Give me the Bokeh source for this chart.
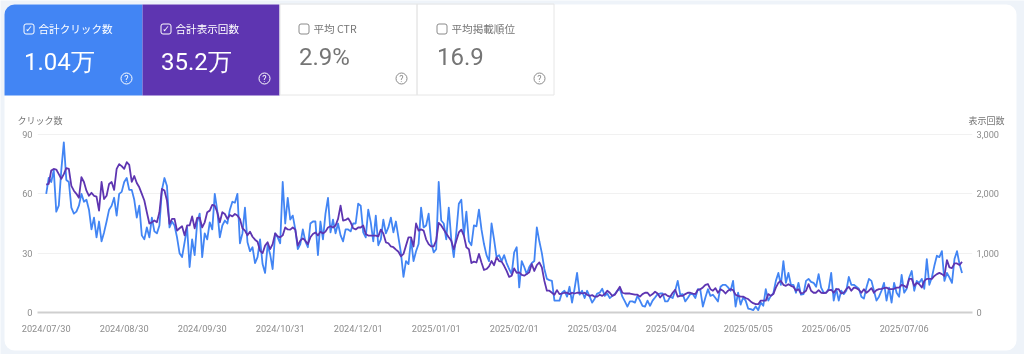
from datetime import datetime, timedelta
from bokeh.plotting import figure
from bokeh.layouts import column
from bokeh.embed import file_html
from bokeh.resources import INLINE
from bokeh.core.properties import value
from bokeh.models import (Range1d, LinearAxis, FixedTicker, DatetimeTickFormatter, NumeralTickFormatter)

start_date = datetime(2024, 7, 30)
tick_labels = ["2024/07/30","2024/08/30","2024/09/30","2024/10/31","2024/12/01","2025/01/01",
               "2025/02/01","2025/03/04","2025/04/04","2025/05/05","2025/06/05","2025/07/06"]
left_ticks = [0, 30, 60, 90]
right_ticks = [0, 1000, 2000, 3000]

clicks = [60,68,66,72,51,54,72,86,67,66,53,50,51,54,60,56,57,52,42,48,38,46,36,40.5,46,52,54,58,49,60,61,66,68,62,62,57,48,54,39,37,43,38,48,41,40,44,62,68,64,43,46,44,38,30,28,35.5,43,23,37,29,45.6,50,28,40,37,45.6,42,60,51.5,38,44,46.5,45,52,56,55.5,60,35,40,53,35.5,31,33,25,28,
 37,24.5,20,34,29.5,22,40,38,35,66,45,58,47,49,42,32,34.6,42,36,33,45,46,46,29,46,37,50,58,40.5,47,40,45,39,36,42,42,41,45,45,55,54,40.5,38,52,45.6,36,49,34,37,47,40,43,48,40.5,46,38,30,18,26,24.5,37,26,31,34.6,53,43,44,50,35.5,30.4,32,66,46.5,45,37,53,37,28,40.5,55,57,39,51,36,34,44,43.6,52,42,34.6,29,26,45,37,28,29,26,29,25,22,19.4,30.4,33,
 12.7,26,23,19.4,23,25,26,43,36,30,22,17,16.4,16,6,6,6,10,11,8,13,5,12,20,9,11,7.3,11,8,5,7,9.6,10,12,8.4,9.6,7.3,8.4,9.3,11,12,8,5.6,3,5.6,5.6,5,8.4,6,3.4,3,6,3.4,6,7.6,9.3,9.6,9.6,5.6,5.6,8,7.3,11,16,9,9.3,5.6,7.3,9.3,9.3,7.3,11.8,11.3,3,7.6,11.8,8.4,9,7.3,5.6,13,14,14,12.7,11,16,3,10,4,7.6,6,2,1.7,1.2,3,1.2,5,3.4,
 11.8,6,8.4,9.6,16,20,14,26,15,20,14,14,10,15,9,9.3,16,17,15.5,15,13,19.4,12.6,10,10,12,20,6,12,6,11,9.3,11,18,14,14,13,12,8,7,12.6,17,16,11,6,8,11,15,6,12.6,5,15,10,8,19,10,12,17.7,21,11,16,15,17,12,27,14,17.7,23.6,28.7,28,31,16,20,17.7,15,27,31,24.5,20]

impressions = [2157,2167,2393,2420,2410,2333,2253,2333,2433,2420,2133,2053,2000,1933,2280,2200,2053,1967,2017,1967,1953,1717,2200,1913,1967,2167,2200,2067,2420,2500,2467,2420,2533,2487,2200,2300,2183,2110,2000,1887,1690,1500,1520,1550,1520,1690,2083,2057,1887,1493,1577,1577,1380,1420,1453,1300,1467,1467,1620,1420,1593,1600,1433,1520,1690,1717,1813,1800,1690,1520,1690,1660,1577,1643,1620,1660,1633,1577,1420,1380,1300,1363,1277,1227,1193,
 1040,1000,1127,1183,1067,1153,1333,1283,1267,1300,1433,1400,1397,1433,1397,1127,1210,1250,1210,1153,1267,1323,1350,1297,1363,1333,1363,1433,1453,1433,1467,1577,1800,1550,1560,1587,1520,1420,1400,1433,1433,1467,1323,1297,1297,1297,1297,1283,1397,1333,1183,1167,1113,1100,1060,1023,947,987,1127,1267,1267,1113,1500,1380,1400,1380,1233,1153,1113,1113,1210,1510,1467,1400,1333,1267,1210,1067,1210,1350,1397,1297,1100,1067,833,857,843,987,843,717,733,777,867,797,930,867,857,787,700,600,620,743,667,
 677,633,620,647,677,817,700,800,843,760,533,367,367,333,300,377,310,320,333,333,310,333,320,333,333,320,333,300,280,293,267,267,300,280,310,367,333,280,300,367,433,333,320,320,320,310,300,300,267,310,333,333,280,310,350,320,253,300,310,280,267,333,383,267,280,280,310,333,333,320,310,383,393,423,467,480,393,367,410,333,393,367,320,367,393,377,300,280,267,267,243,227,187,157,140,140,200,200,
 200,310,280,310,420,500,533,467,450,477,450,433,367,393,320,333,367,477,367,333,333,377,333,327,333,377,383,333,393,393,320,333,393,433,367,420,410,383,333,393,333,367,410,333,377,393,400,410,420,393,393,400,420,420,467,450,420,567,567,450,500,477,420,533,567,567,567,617,647,667,647,617,883,760,747,827,827,800,853]

card_titles = ["合計クリック数", "合計表示回数", "平均 CTR", "平均掲載順位"]
card_values = ["1.04万", "35.2万", "2.9%", "16.9"]

W, H = 1024, 354
BG = "#eef3f9"
PX_LEFT, PX_RIGHT, PX_TOP, PX_BOTTOM = 37, 972, 133, 312
PX_PER_DAY = 2.516
X0 = 45.7
Y_TOP_MARGIN = 0.506  # a hair of headroom so the 90 gridline is not cut by the frame edge
JP = "Noto Sans CJK JP"
FIXED = {"position": "fixed", "left": "0", "top": "0"}

def day(d):
    return start_date + timedelta(days=d)

x_clicks = [day(i) for i in range(len(clicks))]
x_impr = [day(i) for i in range(len(impressions))]

# page furniture: a figure whose frame is the whole window, y measured upward from the bottom
bg = figure(width=W, height=H, output_backend="svg", toolbar_location=None,
            x_range=Range1d(0, W), y_range=Range1d(0, H), min_border=0,
            background_fill_color=BG, border_fill_color=BG, outline_line_color=None, frame_align=False)
bg.axis.visible = False
bg.grid.visible = False
bg.styles = FIXED


def box(l, r, t, b, fill, line=None, lw=1, radius=0):
    bg.quad(left=l, right=r, top=H - t, bottom=H - b, fill_color=fill, line_color=line, line_width=lw,
            border_radius=radius)


def txt(x, y, s, size, color, font=JP, align="left"):
    bg.text(x=[x], y=[H - y], text=[s], text_font=value(font), text_font_size=value(f"{size}px"),
            text_color=color, text_align=align, text_baseline="middle")


box(4, 1016, 4, 350, "#ffffff", radius=10)
box(4, 142, 4, 95, "#4285f4", radius=(10, 0, 0, 0))
box(142, 279, 4, 95, "#5e35b1")
box(279.5, 416.5, 3.5, 94.5, None, line="#e6e6e6")
box(416.5, 553.5, 3.5, 94.5, None, line="#e6e6e6")

lefts = [23, 160, 298, 436]
q_centers = [126, 264, 401, 539]
for i in range(4):
    white = i < 2
    tc = "#ffffff" if white else "#757575"
    box(lefts[i] + .5, lefts[i] + 10.5, 23.5, 33.5, None, line="#ffffff" if white else "#8a8a8a", radius=2)
    if white:
        txt(lefts[i] + 5.5, 28.5, "✓", 9, "#ffffff", font="DejaVu Sans", align="center")
    txt(lefts[i] + 15, 28, card_titles[i], 10.6, "#ffffff" if white else "#757575")
    txt(lefts[i] + 0.5, 61 if white else 56, card_values[i], 24, tc, font="Roboto")
    qc = "#ffffff" if white else "#8a8a8a"
    bg.scatter([q_centers[i]], [H - 78], marker="circle", size=11, fill_color=None, line_color=qc, line_width=1)
    txt(q_centers[i], 78, "?", 9, qc, font="Roboto", align="center")

txt(17, 120, "クリック数", 9, "#757575")
txt(968, 120, "表示回数", 9, "#757575")

# the chart itself, transparent, over the furniture
p = figure(width=W, height=H, output_backend="svg", toolbar_location=None,
           x_axis_type="datetime",
           x_range=Range1d(day((PX_LEFT - X0) / PX_PER_DAY), day((PX_RIGHT - X0) / PX_PER_DAY)),
           y_range=Range1d(0, left_ticks[-1] + Y_TOP_MARGIN), frame_align=False,
           min_border_left=PX_LEFT, min_border_right=W - PX_RIGHT,
           min_border_top=PX_TOP, min_border_bottom=H - PX_BOTTOM,
           background_fill_color=None, border_fill_color=None, outline_line_color=None)
p.styles = FIXED

tick_dates = [datetime.strptime(s, "%Y/%m/%d") for s in tick_labels]
p.xaxis.ticker = FixedTicker(ticks=[(d - datetime(1970, 1, 1)).total_seconds() * 1000 for d in tick_dates])
p.xaxis.formatter = DatetimeTickFormatter(days="%Y/%m/%d", months="%Y/%m/%d", years="%Y/%m/%d", hours="%Y/%m/%d",
                                          context=None)
p.yaxis.ticker = FixedTicker(ticks=left_ticks)
p.extra_y_ranges = {"impr": Range1d(0, right_ticks[-1] * (1 + Y_TOP_MARGIN / left_ticks[-1]))}
ax = LinearAxis(y_range_name="impr", ticker=FixedTicker(ticks=right_ticks),
                formatter=NumeralTickFormatter(format="0,0"))
p.add_layout(ax, "right")

for a in [p.xaxis[0], p.yaxis[0], ax]:
    a.major_tick_line_color = None
    a.minor_tick_line_color = None
    a.major_tick_out = 0
    a.major_tick_in = 0
    a.major_label_text_font = "Roboto"
    a.major_label_text_font_size = "9.2px"
    a.major_label_text_color = "#8c8c8c"
p.yaxis[0].axis_line_color = None
ax.axis_line_color = None
p.xaxis[0].axis_line_color = "#cfcfcf"
p.xaxis[0].axis_line_width = 2
p.xaxis[0].major_label_standoff = 10
p.yaxis[0].major_label_standoff = 5
ax.major_label_standoff = 4
p.xgrid.visible = False
p.ygrid.ticker = FixedTicker(ticks=left_ticks[1:])
p.ygrid.grid_line_color = "#f1f1f1"
p.ygrid.grid_line_width = 1

p.line(x_clicks, clicks, line_color="#4285f4", line_width=1.8, line_join="round")
p.line(x_impr, impressions, y_range_name="impr", line_color="#5e35b1", line_width=1.8, line_join="round")

open("out.html", "w").write(file_html(column(bg, p), INLINE))
print(len(clicks), len(impressions))
